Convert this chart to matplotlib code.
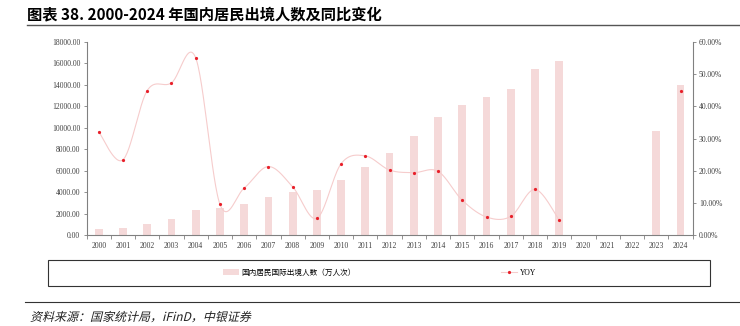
import numpy as np
import matplotlib
matplotlib.use("Agg")
import matplotlib.pyplot as plt
from matplotlib.lines import Line2D
from matplotlib.patches import Patch, Rectangle, PathPatch
from matplotlib.textpath import TextPath
from matplotlib.font_manager import FontProperties
from matplotlib.transforms import Affine2D, IdentityTransform

plt.rcParams['font.family'] = ['Noto Sans CJK SC', 'DejaVu Sans']

years = [str(y) for y in range(2000, 2025)]
# 国内居民国际出境人数（万人次），2020-2022 无数据
travellers = [560, 680, 1030, 1490, 2330, 2520, 2920, 3520, 3980, 4200,
              5130, 6370, 7680, 9200, 11000, 12120, 12870, 13590, 15480, 16230,
              np.nan, np.nan, np.nan, 9700, 13990]
# 同比（%）
yoy = [32.1, 23.4, 44.9, 47.3, 55.1, 9.6, 14.6, 21.3, 15.0, 5.2,
       22.2, 24.6, 20.2, 19.4, 19.8, 10.8, 5.6, 5.8, 14.2, 4.6,
       np.nan, np.nan, np.nan, np.nan, 44.7]

left_ticks = np.arange(0, 18001, 2000)
right_ticks = np.arange(0, 61, 10)

bar_color = '#f5d9d9'
line_color = '#f6cccc'
dot_color = '#e8202a'
axis_color = '#808080'
serif = ['Liberation Serif', 'Noto Sans CJK SC']


def smooth(xs, ys, n=30):
    # bezier smoothing through the points (same shape as a spreadsheet "smoothed line")
    xs = np.asarray(xs, float)
    ys = np.asarray(ys, float)
    px, py = [], []
    for i in range(len(xs) - 1):
        x0, y0 = (xs[i - 1], ys[i - 1]) if i > 0 else (xs[i], ys[i])
        x3, y3 = (xs[i + 2], ys[i + 2]) if i + 2 < len(xs) else (xs[i + 1], ys[i + 1])
        c1 = (xs[i] + (xs[i + 1] - x0) / 6, ys[i] + (ys[i + 1] - y0) / 6)
        c2 = (xs[i + 1] - (x3 - xs[i]) / 6, ys[i + 1] - (y3 - ys[i]) / 6)
        t = np.linspace(0, 1, n)
        bx = ((1 - t) ** 3 * xs[i] + 3 * (1 - t) ** 2 * t * c1[0]
              + 3 * (1 - t) * t ** 2 * c2[0] + t ** 3 * xs[i + 1])
        by = ((1 - t) ** 3 * ys[i] + 3 * (1 - t) ** 2 * t * c1[1]
              + 3 * (1 - t) * t ** 2 * c2[1] + t ** 3 * ys[i + 1])
        px.extend(bx)
        py.extend(by)
    return np.array(px), np.array(py)


fig = plt.figure(figsize=(7.4, 3.26), dpi=100)
ax = fig.add_axes([0.117, 0.279, 0.819, 0.592])
x = np.arange(len(years))

ax.bar(x, travellers, width=0.32, color=bar_color, zorder=2)
ax.set_xlim(-0.5, len(years) - 0.5)
ax.set_ylim(0, 18000)
ax.set_yticks(left_ticks)
ax.set_yticklabels(['%.2f' % v for v in left_ticks], fontsize=5.5,
                   family=serif, color='#404040')
ax.set_xticks(x)
ax.set_xticklabels(years, fontsize=5.5, family=serif, color='#404040')
ax.set_xticks(np.arange(-0.5, len(years), 1), minor=True)
ax.tick_params(axis='x', which='major', length=0, pad=5)
ax.tick_params(axis='x', which='minor', length=3, color=axis_color, width=0.6)
ax.tick_params(axis='y', length=2.5, color=axis_color, width=0.6, pad=2)
for s in ['top', 'right']:
    ax.spines[s].set_visible(False)
for s in ['left', 'bottom']:
    ax.spines[s].set_color(axis_color)
    ax.spines[s].set_linewidth(0.8)

ax2 = ax.twinx()
ax2.set_ylim(0, 60)
ax2.set_yticks(right_ticks)
ax2.set_yticklabels(['%.2f%%' % v for v in right_ticks], fontsize=5.5,
                    family=serif, color='#404040')
ax2.tick_params(axis='y', length=2.5, color=axis_color, width=0.6, pad=2)
for s in ['top', 'left', 'bottom']:
    ax2.spines[s].set_visible(False)
ax2.spines['right'].set_color(axis_color)
ax2.spines['right'].set_linewidth(0.8)

yoy_arr = np.array(yoy)
seg = ~np.isnan(yoy_arr[:20])
sx, sy = smooth(x[:20][seg], yoy_arr[:20][seg])
ax2.plot(sx, sy, color=line_color, lw=0.8, zorder=3)
ax2.plot(x, yoy_arr, ls='none', marker='o', ms=1.3, color=dot_color, zorder=4)

# title and rules
fig.text(0.037, 0.957, '图表 38. 2000-2024 年国内居民出境人数及同比变化',
         fontsize=11, fontweight='bold', va='center', ha='left')
fig.add_artist(Line2D([0.036, 1.0], [0.923, 0.923], color='#555555', lw=1.0))
fig.add_artist(Line2D([0.034, 1.0], [0.074, 0.074], color='#333333', lw=0.8))

# slanted source note
src = TextPath((0, 0), '资料来源：国家统计局，iFinD，中银证券', size=12,
               prop=FontProperties(family='Noto Sans CJK SC'))
fig.add_artist(PathPatch(src, transform=Affine2D().skew_deg(14, 0).translate(30, 5)
                         + IdentityTransform(), color='#222222', lw=0))

# legend box
fig.add_artist(Rectangle((0.065, 0.123), 0.895, 0.079, transform=fig.transFigure,
                         fill=False, edgecolor='#333333', lw=0.8))
handles = [Patch(facecolor=bar_color, edgecolor='none'),
           Line2D([], [], color=line_color, lw=0.8, marker='o', ms=1.3,
                  markerfacecolor=dot_color, markeredgecolor=dot_color)]
fig.legend(handles, ['国内居民国际出境人数（万人次）', 'YOY'], ncol=2,
           loc='center', bbox_to_anchor=(0.513, 0.163), frameon=False,
           prop=FontProperties(family=serif, size=5.5), columnspacing=19,
           handlelength=2.0, handleheight=0.8, handletextpad=0.4)

fig.savefig('out.png', dpi=100)
